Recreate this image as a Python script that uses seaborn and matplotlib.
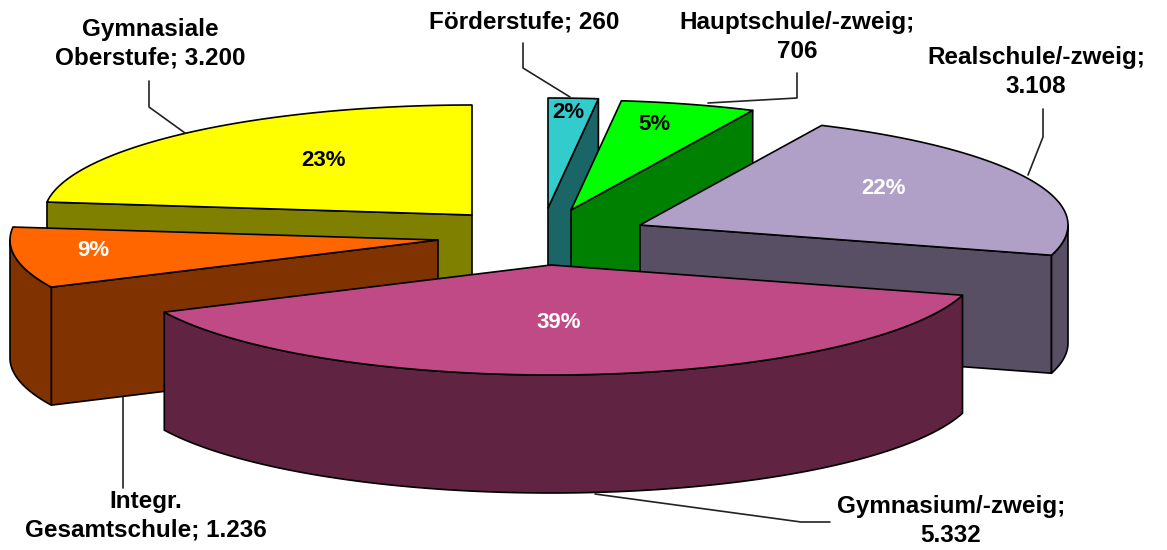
"""
Exploded 3D-style pie of pupils by school type, drawn on a pixel-sized axes.
"""

import numpy as np
import matplotlib
matplotlib.use("Agg")
import matplotlib.pyplot as plt
import seaborn as sns

sns.set_theme(style="white")
plt.rcParams['font.family'] = ['Liberation Sans', 'DejaVu Sans']

# Data (clockwise from twelve o'clock)
categories = ['Förderstufe', 'Hauptschule/-zweig', 'Realschule/-zweig',
              'Gymnasium/-zweig', 'Integr. Gesamtschule', 'Gymnasiale Oberstufe']
values = [260, 706, 3108, 5332, 1236, 3200]
label_texts = ['Förderstufe; 260', 'Hauptschule/-zweig;\n706', 'Realschule/-zweig;\n3.108',
               'Gymnasium/-zweig;\n5.332', 'Integr.\nGesamtschule; 1.236', 'Gymnasiale\nOberstufe; 3.200']

# Colours
top_colors = sns.color_palette(['#33CCCC', '#00FF00', '#B0A0C8', '#C04A85', '#FF6600', '#FFFF00'])
side_colors = sns.color_palette(['#1A6666', '#008000', '#584F64', '#602442', '#803300', '#808000'])
pct_colors = ['black', 'black', 'white', 'white', 'white', 'black']

# Layout in pixels
apexes = [(548, 208), (571, 210), (640, 225), (551, 265), (438, 240), (472, 215)]
pct_pos = [(568, 113), (654, 124), (883, 189), (559, 323), (93, 250), (323, 160)]
label_pos = [(524, 22), (797, 37), (1036, 72), (951, 521), (146, 516), (150, 44)]
leaders = [
    [(523, 43), (523, 68), (570, 97)],
    [(797, 73), (797, 98), (708, 103)],
    [(1043, 109), (1043, 137), (1028, 175)],
    [(595, 494), (801, 522), (830, 522)],
    [(123, 397), (123, 488)],
    [(149, 81), (149, 107), (185, 133)],
]
RX, RY, DEPTH = 428, 110, 118
draw_order = [0, 1, 5, 2, 4, 3]


def rim(apex, theta):
    """Points on the ellipse around apex, theta in radians clockwise from the top"""
    return np.column_stack([apex[0] + RX * np.sin(theta), apex[1] - RY * np.cos(theta)])


def add_face(ax, points, color):
    ax.fill(points[:, 0], points[:, 1], facecolor=color, edgecolor='black',
            linewidth=1.2, joinstyle='round')


def drop(points):
    """Wall polygon hanging below an outline"""
    return np.vstack([points, (points + [0, DEPTH])[::-1]])


fig, ax = plt.subplots(figsize=(11.67, 5.5), dpi=100)
fig.subplots_adjust(0, 0, 1, 1)
ax.set_xlim(0, 1167)
ax.set_ylim(550, 0)
ax.axis('off')

edges = np.radians(np.concatenate([[0], np.cumsum(values)]) / sum(values) * 360)

for i in draw_order:
    start, end = edges[i], edges[i + 1]
    apex = np.array(apexes[i], dtype=float)

    # Radial walls that face the viewer
    if np.sin(start) < -1e-6:
        add_face(ax, drop(np.vstack([apex, rim(apex, np.array([start]))])), side_colors[i])
    if np.sin(end) > 1e-6:
        add_face(ax, drop(np.vstack([apex, rim(apex, np.array([end]))])), side_colors[i])

    # Outer wall, front half of the ellipse only
    front_start, front_end = max(start, np.pi / 2), min(end, 3 * np.pi / 2)
    if front_end > front_start:
        add_face(ax, drop(rim(apex, np.linspace(front_start, front_end, 120))), side_colors[i])

    # Top face
    add_face(ax, np.vstack([apex, rim(apex, np.linspace(start, end, 120))]), top_colors[i])

for i, value in enumerate(values):
    ax.text(*pct_pos[i], f'{round(100 * value / sum(values))}%', color=pct_colors[i],
            ha='center', va='center', fontsize=16, fontweight='bold')
    ax.text(*label_pos[i], label_texts[i], color='black', ha='center', va='center',
            fontsize=17.5, fontweight='bold', linespacing=1.3)
    line = np.array(leaders[i])
    ax.plot(line[:, 0], line[:, 1], color='#222222', linewidth=1.2)

fig.savefig('out.png', dpi=100)
